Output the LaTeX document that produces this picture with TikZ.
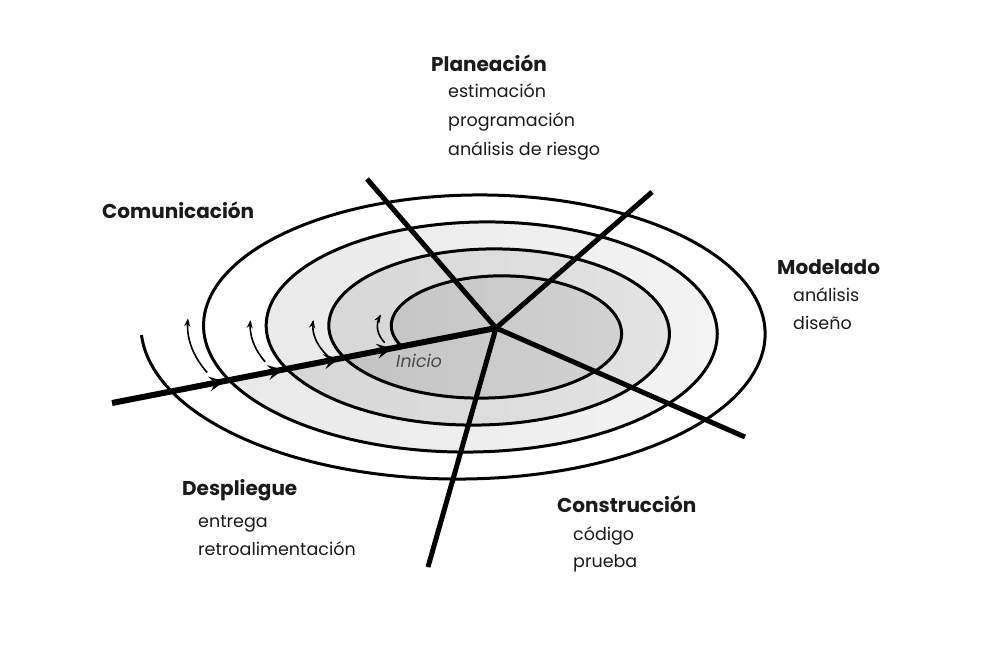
\documentclass[tikz,border=0pt]{standalone}
\usepackage{fontspec}
\setmainfont{Poppins}
\newfontfamily\inicfont[FakeSlant=0.18]{Poppins}
\usetikzlibrary{arrows.meta,decorations.markings}
\definecolor{txt}{HTML}{1A1A1A}
\definecolor{ini}{HTML}{4A4A4A}
\definecolor{bandA}{HTML}{E9E9E9}
\definecolor{bandAr}{HTML}{F3F3F3}
\definecolor{bandB}{HTML}{D6D6D6}
\definecolor{bandBr}{HTML}{E3E3E3}
\definecolor{bandC}{HTML}{C3C3C3}
\definecolor{bandCr}{HTML}{D2D2D2}
\begin{document}
\begin{tikzpicture}[x=1pt,y=-1pt,
  head/.style={anchor=base west, inner sep=0pt, text=txt, font=\fontsize{20}{24}\selectfont\bfseries},
  item/.style={anchor=base west, inner sep=0pt, text=txt, font=\fontsize{17.5}{21}\selectfont},
  spiralline/.style={line width=3pt, black},
  turnarrow/.style={line width=1.6pt, black, -{Stealth[length=8pt,width=6pt]}},
  spoke/.style={line width=5pt, black},
  axisline/.style={line width=6pt, black, postaction=decorate,
    decoration={markings,
      mark=at position 0.292 with {\arrow{Stealth[length=15pt,width=15pt,inset=6pt]}},
      mark=at position 0.445 with {\arrow{Stealth[length=15pt,width=15pt,inset=6pt]}},
      mark=at position 0.591 with {\arrow{Stealth[length=15pt,width=15pt,inset=6pt]}},
      mark=at position 0.729 with {\arrow{Stealth[length=15pt,width=15pt,inset=6pt]}}}}
]
\useasboundingbox (0,0) rectangle (992,650);
\fill[white] (0,0) rectangle (992,650);

% shaded bands: each turn of the spiral, closed along the axis line
\fill[left color=bandA, right color=bandAr] plot[variable=\s, domain=1.937:2.936, samples=300]
  ({494.6-7.4*\s+(102.8+55.3*\s)*cos(180-360*\s)}, {330.25-(47.5+27*\s)*sin(180-360*\s)}) -- cycle;
\fill[left color=bandB, right color=bandBr] plot[variable=\s, domain=0.939:1.937, samples=300]
  ({494.6-7.4*\s+(102.8+55.3*\s)*cos(180-360*\s)}, {330.25-(47.5+27*\s)*sin(180-360*\s)}) -- cycle;
\fill[left color=bandC, right color=bandCr] plot[variable=\s, domain=-0.058:0.939, samples=300]
  ({494.6-7.4*\s+(102.8+55.3*\s)*cos(180-360*\s)}, {330.25-(47.5+27*\s)*sin(180-360*\s)}) -- cycle;

% spiral
\draw[spiralline] plot[variable=\s, domain=-0.058:4, samples=700]
  ({494.6-7.4*\s+(102.8+55.3*\s)*cos(180-360*\s)}, {330.25-(47.5+27*\s)*sin(180-360*\s)});

% small turn arrows
\draw[turnarrow] plot[variable=\s, domain=2.946:3.015, samples=30]
  ({494.6-7.4*\s+(118.8+55.3*\s)*cos(180-360*\s)}, {330.25-(47.5+27*\s)*sin(180-360*\s)});
\draw[turnarrow] plot[variable=\s, domain=1.949:2.016, samples=30]
  ({494.6-7.4*\s+(118.8+55.3*\s)*cos(180-360*\s)}, {330.25-(47.5+27*\s)*sin(180-360*\s)});
\draw[turnarrow] plot[variable=\s, domain=0.9417:1.022, samples=30]
  ({494.6-7.4*\s+(118.8+55.3*\s)*cos(180-360*\s)}, {330.25-(47.5+27*\s)*sin(180-360*\s)});
\draw[turnarrow] plot[variable=\s, domain=-0.043:0.052, samples=30]
  ({494.6-7.4*\s+(116.8+55.3*\s)*cos(180-360*\s)}, {330.25-(47.5+27*\s)*sin(180-360*\s)});

% spokes
\coordinate (c) at (496,328);
\coordinate (eA) at (112,403);
\coordinate (eUL) at (367,179);
\coordinate (eUR) at (652,192);
\coordinate (eLR) at (745,437);
\coordinate (eB) at (428,567);
\draw[spoke] (eUL) -- (c);
\draw[spoke] (eUR) -- (c);
\draw[spoke] (eLR) -- (c);
\draw[spoke] (eB) -- (c);
\draw[axisline] (eA) -- (c);

% labels
\node[head] (plan) at (431,72) {Planeación};
\node[item] (plan1) at (448,98) {estimación};
\node[item] (plan2) at (448,127) {programación};
\node[item] (plan3) at (448,155) {análisis de riesgo};

\node[head] (com) at (102,218) {Comunicación};

\node[head] (mod) at (777,274) {Modelado};
\node[item] (mod1) at (793,301) {análisis};
\node[item] (mod2) at (793,329) {diseño};

\node[head] (des) at (182,495) {Despliegue};
\node[item] (des1) at (198,527) {entrega};
\node[item] (des2) at (198,555) {retroalimentación};

\node[head] (con) at (557,512) {Construcción};
\node[item] (con1) at (573,540) {código};
\node[item] (con2) at (573,567) {prueba};

\node[anchor=base west, inner sep=0pt, text=ini, font=\fontsize{17.5}{20}\selectfont\inicfont] (ini) at (395,367) {Inicio};
\end{tikzpicture}
\end{document}
